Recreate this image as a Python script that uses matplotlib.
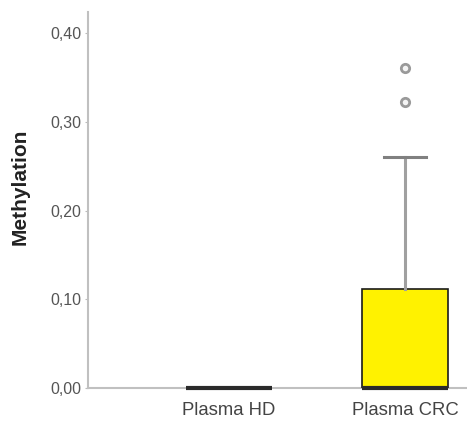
import matplotlib
matplotlib.use("Agg")
import matplotlib.pyplot as plt
from matplotlib.ticker import FuncFormatter

plt.rcParams['font.family'] = ['Liberation Sans', 'DejaVu Sans']

categories = ["Plasma HD", "Plasma CRC"]
q1 = [0.0, 0.0]
medians = [0.0, 0.0]
q3 = [0.0, 0.1115]
whisker_low = [0.0, 0.0]
whisker_high = [0.0, 0.260]
outliers = [[], [0.322, 0.361]]
yticks = [0.0, 0.1, 0.2, 0.3, 0.4]

stats = []
for i, c in enumerate(categories):
    stats.append(dict(label=c, q1=q1[i], med=medians[i], q3=q3[i],
                      whislo=whisker_low[i], whishi=whisker_high[i],
                      fliers=outliers[i]))

fig = plt.figure(figsize=(4.67, 4.23), dpi=100)
ax = fig.add_axes([88/467, 35/423, 379/467, 376/423])

res = ax.bxp(stats, positions=[1, 2], widths=0.49, patch_artist=True,
       boxprops=dict(facecolor="#fff200", edgecolor="#1a1a1a", linewidth=1.2),
       medianprops=dict(color="#2a2a2a", linewidth=3.0),
       whiskerprops=dict(color="#a0a0a0", linewidth=2.2),
       capprops=dict(color="#808080", linewidth=2.2),
       capwidths=0.24,
       flierprops=dict(marker="o", markersize=6, markerfacecolor="#f4f4f4",
                       markeredgecolor="#9a9a9a", markeredgewidth=2.0),
       zorder=3)
for m in res["medians"]:
    m.set_clip_on(False)
    m.set_zorder(5)

ax.set_xlim(0.2, 2.35)
ax.set_ylim(0, 0.4237)
ax.set_yticks(yticks)
ax.yaxis.set_major_formatter(FuncFormatter(lambda v, p: f"{v:.2f}".replace(".", ",")))
ax.tick_params(axis='y', labelsize=11.5, labelcolor="#555555", length=2, color="#bbbbbb", pad=3)
ax.tick_params(axis='x', labelsize=13.3, labelcolor="#444444", length=0, pad=10)
ax.set_xticks([1, 2])
ax.set_xticklabels(categories)
ax.set_ylabel("Methylation", fontsize=15, fontweight="bold", color="#222222")
ax.yaxis.set_label_coords(-0.155, 0.535)

for s in ["top", "right"]:
    ax.spines[s].set_visible(False)
for s in ["left", "bottom"]:
    ax.spines[s].set_color("#c0c0c0")
    ax.spines[s].set_linewidth(1.5)

fig.savefig("out.png", dpi=100)
